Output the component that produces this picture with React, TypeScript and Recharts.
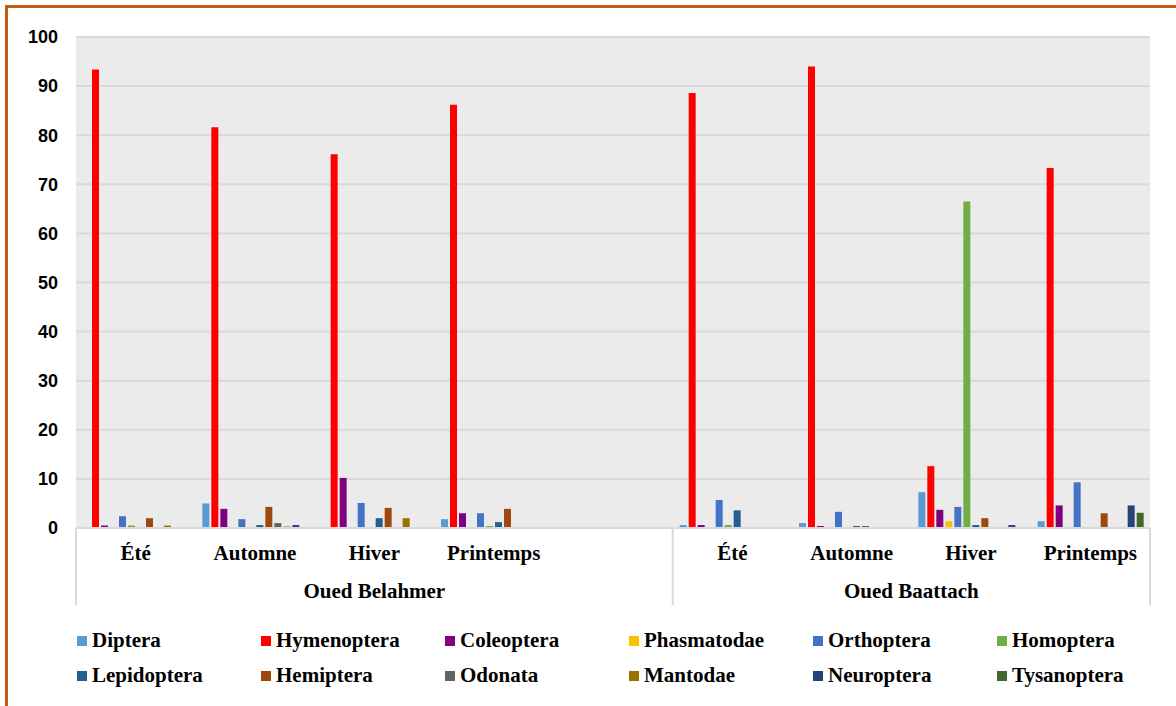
import React from 'react';
import { BarChart, Bar, XAxis, YAxis, CartesianGrid, Legend } from 'recharts';

const seasons = ['Été', 'Automne', 'Hiver', 'Printemps', '', 'Été', 'Automne', 'Hiver', 'Printemps'];
const sites = ['Oued Belahmer', 'Oued Belahmer', 'Oued Belahmer', 'Oued Belahmer', 'Oued Belahmer', 'Oued Baattach', 'Oued Baattach', 'Oued Baattach', 'Oued Baattach'];
const yTicks = [0, 10, 20, 30, 40, 50, 60, 70, 80, 90, 100];

const diptera = [0, 5.0, 0, 1.8, null, 0.6, 1.0, 7.3, 1.4];
const hymenoptera = [93.4, 81.6, 76.1, 86.2, null, 88.6, 94.0, 12.6, 73.3];
const coleoptera = [0.5, 3.9, 10.2, 3.0, null, 0.6, 0.4, 3.7, 4.6];
const phasmatodae = [0, 0, 0, 0, null, 0, 0, 1.4, 0];
const orthoptera = [2.4, 1.8, 5.1, 3.0, null, 5.7, 3.3, 4.3, 9.3];
const homoptera = [0.5, 0, 0, 0.4, null, 0.6, 0, 66.5, 0];
const lepidoptera = [0, 0.6, 2.0, 1.2, null, 3.6, 0.4, 0.6, 0];
const hemiptera = [2.0, 4.3, 4.1, 3.9, null, 0, 0.4, 2.0, 3.0];
const odonata = [0, 1.0, 0, 0, null, 0, 0, 0, 0];
const mantodae = [0.5, 0.3, 2.0, 0, null, 0, 0, 0, 0];
const neuroptera = [0, 0.6, 0, 0, null, 0, 0, 0.6, 4.6];
const tysanoptera = [0, 0, 0, 0, null, 0, 0, 0, 3.1];

const series = [
  { name: 'Diptera', values: diptera, color: '#5B9BD5' },
  { name: 'Hymenoptera', values: hymenoptera, color: '#FF0000' },
  { name: 'Coleoptera', values: coleoptera, color: '#800080' },
  { name: 'Phasmatodae', values: phasmatodae, color: '#FFC000' },
  { name: 'Orthoptera', values: orthoptera, color: '#4472C4' },
  { name: 'Homoptera', values: homoptera, color: '#70AD47' },
  { name: 'Lepidoptera', values: lepidoptera, color: '#255E91' },
  { name: 'Hemiptera', values: hemiptera, color: '#9E480E' },
  { name: 'Odonata', values: odonata, color: '#636363' },
  { name: 'Mantodae', values: mantodae, color: '#997300' },
  { name: 'Neuroptera', values: neuroptera, color: '#264478' },
  { name: 'Tysanoptera', values: tysanoptera, color: '#43682B' },
];

const data = seasons.map((s, i) => {
  const row: any = { key: `${i}`, season: s, site: sites[i] };
  series.forEach((se) => {
    row[se.name] = se.values[i];
  });
  return row;
});

const W = 1176;
const H = 706;
const MARGIN = { top: 37, right: 26, bottom: 88, left: 0 };
const Y_W = 76;
const PLOT_W = W - MARGIN.left - MARGIN.right - Y_W;
const SERIF = '"Liberation Serif", "Times New Roman", serif';
const SANS = '"Liberation Sans", Arial, sans-serif';
const LINE = '#D9D9D9';

const CategoryTick = (props: any) => {
  const { x, y, payload, index } = props;
  const half = payload && payload.offset ? payload.offset : PLOT_W / seasons.length / 2;
  const site = sites[index];
  const first = index === 0 || sites[index - 1] !== site;
  const last = index === seasons.length - 1;
  const count = sites.filter((s) => s === site).length;
  return (
    <g>
      <text x={x} y={y + 32} textAnchor="middle" fontFamily={SERIF} fontWeight="bold" fontSize={21} fill="#000">
        {seasons[index]}
      </text>
      {first && (
        <>
          <line x1={x - half} x2={x - half} y1={y} y2={y + 77} stroke={LINE} strokeWidth={2} />
          <text x={x - half + count * half} y={y + 70} textAnchor="middle" fontFamily={SERIF} fontWeight="bold" fontSize={21} fill="#000">
            {site}
          </text>
        </>
      )}
      {last && <line x1={x + half} x2={x + half} y1={y} y2={y + 77} stroke={LINE} strokeWidth={2} />}
    </g>
  );
};

const renderLegend = () => (
  <div style={{ display: 'grid', gridTemplateColumns: 'repeat(6, 184px)', paddingLeft: 77, rowGap: 0 }}>
    {series.map((s) => (
      <div key={s.name} style={{ display: 'flex', alignItems: 'center', height: 35, fontFamily: SERIF, fontWeight: 'bold', fontSize: 21, color: '#000', whiteSpace: 'nowrap' }}>
        <span style={{ display: 'inline-block', width: 10, height: 10, background: s.color, marginRight: 5 }} />
        {s.name}
      </div>
    ))}
  </div>
);

export default function App() {
  return (
    <div style={{ position: 'absolute', left: 0, top: 0, width: W, height: H, overflow: 'hidden', background: '#fff' }}>
      <div style={{ position: 'absolute', left: 5, top: 5, width: 1300, height: 900, border: '3px solid #C55A11', boxSizing: 'border-box' }} />
      <div style={{ position: 'absolute', left: 0, top: 0 }}>
        <BarChart width={W} height={H} data={data} margin={MARGIN} barSize={7} barGap={2}>
          <CartesianGrid vertical={false} stroke={LINE} strokeWidth={2} fill="#EBEBEB" />
          <XAxis
            dataKey="key"
            interval={0}
            tickLine={false}
            tickSize={0}
            tickMargin={0}
            height={90}
            axisLine={{ stroke: LINE, strokeWidth: 2 }}
            tick={<CategoryTick />}
          />
          <YAxis
            width={Y_W}
            domain={[0, 100]}
            ticks={yTicks}
            interval={0}
            axisLine={false}
            tickLine={false}
            tickSize={0}
            tickMargin={18}
            tick={{ fontFamily: SANS, fontWeight: 'bold', fontSize: 18, fill: '#000' }}
          />
          <Legend
            layout="horizontal"
            verticalAlign="middle"
            align="center"
            content={renderLegend}
            wrapperStyle={{ left: 0, top: 623, width: W, height: 72 }}
          />
          {series.map((s) => (
            <Bar key={s.name} dataKey={s.name} name={s.name} fill={s.color} isAnimationActive={false} />
          ))}
        </BarChart>
      </div>
    </div>
  );
}
